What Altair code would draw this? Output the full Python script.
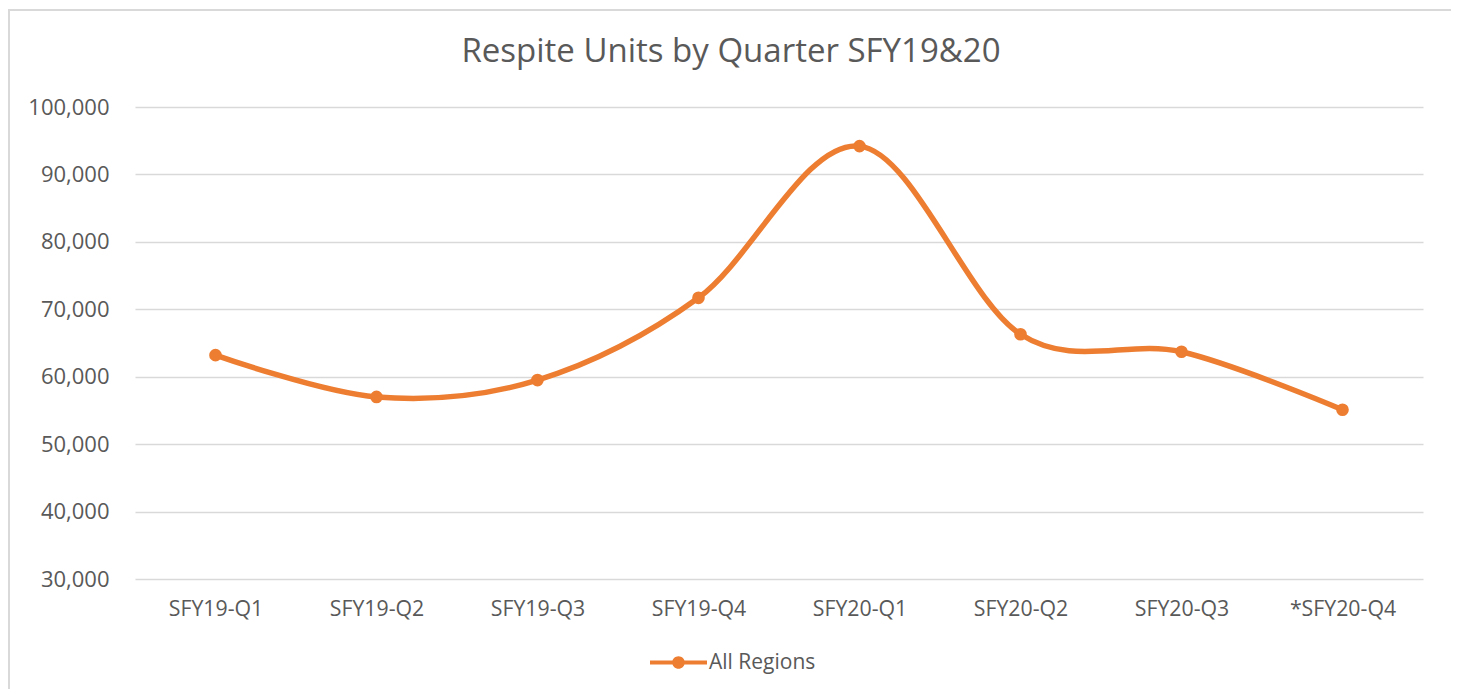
import altair as alt
import pandas as pd

quarters = ["SFY19-Q1", "SFY19-Q2", "SFY19-Q3", "SFY19-Q4",
            "SFY20-Q1", "SFY20-Q2", "SFY20-Q3", "*SFY20-Q4"]
units = [63200, 57000, 59500, 71700, 94200, 66300, 63700, 55100]
series = ["All Regions"] * len(quarters)

df = pd.DataFrame({"quarter": quarters, "units": units, "series": series})

ORANGE = "#ED7D31"
GREY = "#595959"
FONT = "Open Sans"

x = alt.X("quarter:N", sort=quarters,
          scale=alt.Scale(type="point", padding=0.5),
          axis=alt.Axis(title=None, labelAngle=0, domain=False, ticks=False,
                        labelPadding=19, labelFontSize=21.3, labelColor=GREY,
                        labelFont=FONT, grid=False))
y = alt.Y("units:Q", scale=alt.Scale(domain=[30000, 100000], nice=False, zero=False),
          axis=alt.Axis(title=None, values=[30000, 40000, 50000, 60000, 70000, 80000, 90000, 100000],
                        format=",.0f", domain=False, ticks=False, labelPadding=26,
                        labelFontSize=22, labelColor=GREY, labelFont=FONT,
                        grid=True, gridColor="#d9d9d9", gridWidth=1.5))

color = alt.Color("series:N",
                  scale=alt.Scale(domain=["All Regions"], range=[ORANGE]),
                  legend=alt.Legend(title=None, orient="none", legendX=515, legendY=527,
                                    symbolType="M -1 -0.07 L 1 -0.07 L 1 0.07 L -1 0.07 Z M -0.22 0 A 0.22 0.22 0 1 1 0.22 0 A 0.22 0.22 0 1 1 -0.22 0 Z",
                                    symbolSize=3249, symbolFillColor=ORANGE,
                                    symbolStrokeWidth=0, labelFontSize=21,
                                    labelColor=GREY, labelFont=FONT, labelOffset=2))

frame = alt.Chart(pd.DataFrame({"f": [0]})).mark_rect(
    fill="transparent", stroke="#d9d9d9", strokeWidth=2).encode(
    x=alt.value(-126), x2=alt.value(1318), y=alt.value(-97), y2=alt.value(600))

line = alt.Chart(df).mark_line(interpolate="cardinal", tension=0, strokeWidth=5.5).encode(
    x=x, y=y, color=color)
pts = alt.Chart(df).mark_circle(size=160, opacity=1).encode(x=x, y=y, color=color)

chart = alt.layer(frame, line, pts).properties(
    width=1288, height=472,
    background="white",
    title=alt.Title("Respite Units by Quarter SFY19&20", fontSize=33, font=FONT,
                    fontWeight="normal", color=GREY, anchor="middle", frame="bounds",
                    baseline="alphabetic", offset=-86),
    padding={"left": 127, "top": 99, "right": 28, "bottom": 110},
    autosize=alt.AutoSizeParams(type="none"),
).configure_view(strokeWidth=0)

chart.save("out.html", embed_options={"renderer": "svg", "actions": False})
